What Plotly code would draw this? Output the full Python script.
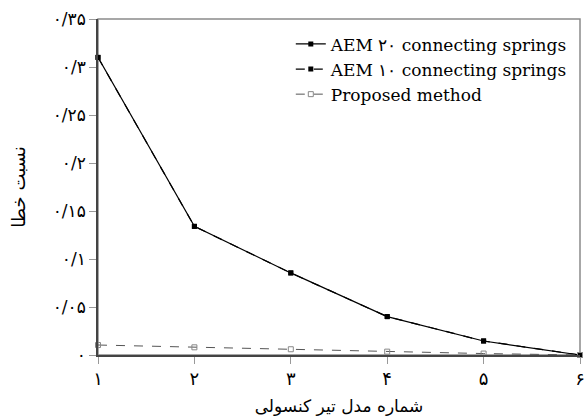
import plotly.graph_objects as go

# Cantilever model number and error ratio for each method
models = [1, 2, 3, 4, 5, 6]
aem20 = [0.310, 0.134, 0.0855, 0.040, 0.0146, 0.0]
aem10 = [0.310, 0.134, 0.0855, 0.040, 0.0146, 0.0]
proposed = [0.0104, 0.008, 0.006, 0.0035, 0.0015, 0.0]

x_ticktext = ["۱", "۲", "۳", "۴", "۵", "۶"]
y_tickvals = [0, 0.05, 0.1, 0.15, 0.2, 0.25, 0.3, 0.35]
y_ticktext = ["۰", "۰/۰۵", "۰/۱", "۰/۱۵", "۰/۲", "۰/۲۵", "۰/۳", "۰/۳۵"]

serif = "DejaVu Serif, Liberation Serif, serif"
arabic = "DejaVu Sans, Noto Sans, sans-serif"

fig = go.Figure()
fig.add_trace(go.Scatter(
    x=models, y=aem20, name="AEM ۲۰ connecting springs",
    mode="lines+markers",
    line=dict(color="black", width=1.2),
    marker=dict(symbol="square", size=5, color="black"),
    cliponaxis=False,
))
fig.add_trace(go.Scatter(
    x=models, y=aem10, name="AEM ۱۰ connecting springs",
    mode="lines+markers",
    line=dict(color="black", width=1.2, dash="dash"),
    marker=dict(symbol="square", size=5, color="black"),
    cliponaxis=False,
))
fig.add_trace(go.Scatter(
    x=models, y=proposed, name="Proposed method",
    mode="lines+markers",
    line=dict(color="#555555", width=1, dash="dash"),
    marker=dict(symbol="square-open", size=5, color="#888888"),
    cliponaxis=False,
))

# light frame on the top and right sides of the plot area
fig.add_shape(type="rect", xref="paper", yref="paper", x0=0, x1=1, y0=0, y1=1,
              line=dict(color="#8a8a8a", width=1.5), layer="below")

fig.update_layout(
    width=587, height=419,
    margin=dict(l=98, r=2, t=19, b=64),
    paper_bgcolor="white", plot_bgcolor="white",
    showlegend=True,
    legend=dict(
        x=0.40, y=0.978, xanchor="left", yanchor="top",
        font=dict(family=serif, size=17, color="black"),
        bgcolor="rgba(0,0,0,0)", tracegroupgap=0,
        itemwidth=30,
    ),
    xaxis=dict(
        range=[1, 6], tickvals=models, ticktext=x_ticktext,
        showgrid=False, zeroline=False,
        showline=True, linecolor="#444444", linewidth=1.5,
        ticks="outside", ticklen=7, tickcolor="#999999",
        ticklabeloverflow="allow",
        tickfont=dict(family=arabic, size=18, color="black"),
        title=dict(text="شماره مدل تیر کنسولی",
                   font=dict(family=arabic, size=17, color="black"), standoff=12),
    ),
    yaxis=dict(
        range=[0, 0.35], tickvals=y_tickvals, ticktext=y_ticktext,
        showgrid=False, zeroline=False,
        showline=True, linecolor="#444444", linewidth=1.5,
        ticks="outside", ticklen=7, tickcolor="#999999",
        ticklabeloverflow="allow",
        tickfont=dict(family=arabic, size=17, color="black"),
        title=dict(text="نسبت خطا",
                   font=dict(family=arabic, size=18, color="black"), standoff=22),
    ),
)

fig.write_html("out.html")
